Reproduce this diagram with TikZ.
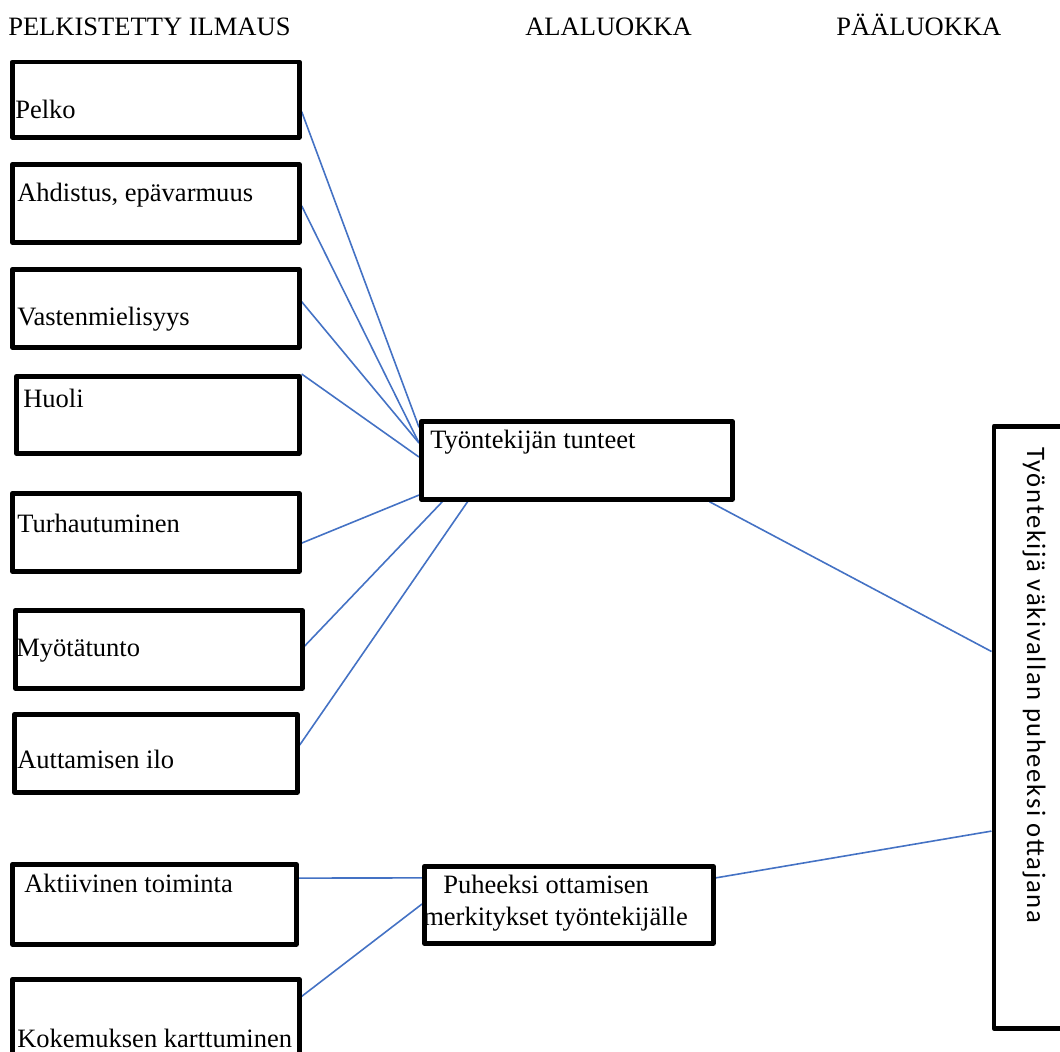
\documentclass[tikz,border=0pt]{standalone}
\usepackage{fontspec}
\setmainfont{Liberation Serif}
\newfontfamily\rightfont[LetterSpace=6]{Carlito}
\usetikzlibrary{calc,backgrounds}
\definecolor{linkblue}{HTML}{4472C4}
\begin{document}
\begin{tikzpicture}[x=0.75pt,y=-0.75pt,
  box/.style={draw, line width=3.5pt, line join=round, rectangle, inner sep=0pt, anchor=north west},
  lbl/.style={anchor=base west, inner sep=0pt, font=\fontsize{19.9}{24}\selectfont},
  conn/.style={draw=linkblue, line width=1.2pt}]
\useasboundingbox (0,0) rectangle (1060,1051);
% headers
\node[lbl] (h1) at (8,35) {PELKISTETTY ILMAUS};
\node[lbl] (h2) at (525,35) {ALALUOKKA};
\node[lbl] (h3) at (836,35) {PÄÄLUOKKA};
% left boxes
\node[box, minimum width=287*0.75pt, minimum height=75.5*0.75pt] (pelko) at (10,59.5) {};
\node[lbl] (tpelko) at (15,118) {Pelko};
\node[box, minimum width=287*0.75pt, minimum height=78*0.75pt] (ahd) at (10,162) {};
\node[lbl] (tahd) at (17,201) {Ahdistus, epävarmuus};
\node[box, minimum width=287*0.75pt, minimum height=78*0.75pt] (vast) at (10,267) {};
\node[lbl] (tvast) at (17,325) {Vastenmielisyys};
\node[box, minimum width=283*0.75pt, minimum height=77*0.75pt] (huoli) at (14,374) {};
\node[lbl] (thuoli) at (23,407) {Huoli};
\node[box, minimum width=287*0.75pt, minimum height=78*0.75pt] (turh) at (10,491) {};
\node[lbl] (tturh) at (17,532) {Turhautuminen};
\node[box, minimum width=287*0.75pt, minimum height=78*0.75pt] (myot) at (13,608) {};
\node[lbl] (tmyot) at (16,656) {Myötätunto};
\node[box, minimum width=283*0.75pt, minimum height=78*0.75pt] (autt) at (12,712) {};
\node[lbl] (tautt) at (17,768) {Auttamisen ilo};
\node[box, minimum width=284*0.75pt, minimum height=80*0.75pt] (akt) at (10,862) {};
\node[lbl] (takt) at (24,892) {Aktiivinen toiminta};
\node[box, minimum width=287*0.75pt, minimum height=103*0.75pt] (kok) at (10,977) {};
\node[lbl] (tkok) at (17,1047) {Kokemuksen karttuminen};
% middle boxes
\node[box, minimum width=311*0.75pt, minimum height=78*0.75pt] (tt) at (419,419) {};
\node[lbl] (ttt) at (430,448) {Työntekijän tunteet};
\node[box, minimum width=289*0.75pt, minimum height=77*0.75pt] (puh) at (422,864) {};
\node[lbl] (tpuh1) at (443,893) {Puheeksi ottamisen};
\node[lbl] (tpuh2) at (423,925) {merkitykset työntekijälle};
% right box
\node[box, minimum width=120*0.75pt, minimum height=602*0.75pt] (main) at (991.5,424) {};
\node[anchor=base west, inner sep=0pt, rotate=-90, font=\rightfont\fontsize{20}{24}\selectfont] (tmain) at (1027,447) {Työntekijä väkivallan puheeksi ottajana};
% connectors
\begin{scope}[on background layer]
\draw[conn] ($(pelko.north east)!0.65!(pelko.south east)$) -- ($(tt.north west)!0.10!(tt.south west)$);
\draw[conn] ($(ahd.north east)!0.53!(ahd.south east)$) -- ($(tt.north west)!0.29!(tt.south west)$);
\draw[conn] ($(vast.north east)!0.42!(vast.south east)$) -- ($(tt.north west)!0.29!(tt.south west)$);
\draw[conn] (huoli.north east) -- ($(tt.north west)!0.46!(tt.south west)$);
\draw[conn] ($(turh.north east)!0.63!(turh.south east)$) -- ($(tt.north west)!0.92!(tt.south west)$);
\draw[conn] ($(myot.north east)!0.46!(myot.south east)$) -- ($(tt.south west)!0.074!(tt.south east)$);
\draw[conn] ($(autt.north east)!0.40!(autt.south east)$) -- ($(tt.south west)!0.154!(tt.south east)$);
\draw[conn] ($(tt.south west)!0.92!(tt.south east)$) -- ($(main.north west)!0.375!(main.south west)$);
\draw[conn] ($(akt.north east)!0.19!(akt.south east)$) -- ($(puh.north west)!0.17!(puh.south west)$);
\draw[conn] ($(kok.north east)!0.18!(kok.south east)$) -- ($(puh.north west)!0.49!(puh.south west)$);
\draw[conn] ($(puh.north east)!0.17!(puh.south east)$) -- ($(main.north west)!0.671!(main.south west)$);
\end{scope}
\end{tikzpicture}
\end{document}
